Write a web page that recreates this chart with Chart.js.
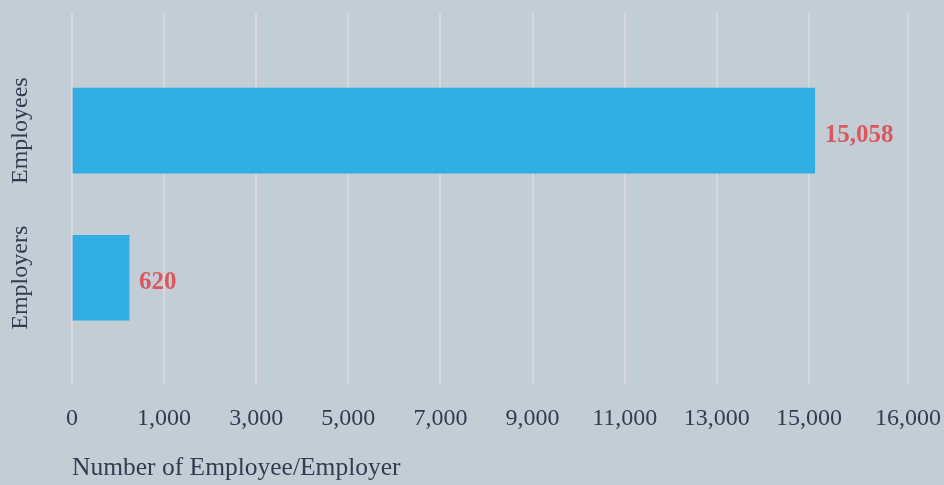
<!DOCTYPE html>
<html>
<head>
<meta charset="utf-8">
<script src="https://cdn.jsdelivr.net/npm/chart.js@4.4.1/dist/chart.umd.min.js"></script>
<style>
  html, body { margin: 0; padding: 0; background: #c3cdd6; }
  #wrap { width: 944px; height: 485px; position: relative; }
</style>
</head>
<body>
<div id="wrap"><canvas id="chart"></canvas></div>
<script>
// ---- data ----
const categories = ['Employees', 'Employers'];
const counts = [15058, 620];
const xTickValues = [0, 1000, 3000, 5000, 7000, 9000, 11000, 13000, 15000, 16000];
const xAxisTitle = 'Number of Employee/Employer';

// ---- piecewise scale: ticks placed at (nearly) even spacing ----
class PiecewiseScale extends Chart.LinearScale {
  determineDataLimits() {
    const t = this.options.tickValues;
    this.min = t[0];
    this.max = t[t.length - 1];
  }
  buildTicks() {
    return this.options.tickValues.map(v => ({ value: v }));
  }
  _cum() {
    const w = this.options.gapWeights;
    const c = [0];
    for (let i = 0; i < w.length; i++) c.push(c[i] + w[i]);
    return c;
  }
  getPixelForValue(value) {
    if (value === null || value === undefined || isNaN(value)) return NaN;
    const t = this.options.tickValues;
    const c = this._cum();
    let i = 0;
    while (i < t.length - 2 && value > t[i + 1]) i++;
    const frac = (value - t[i]) / (t[i + 1] - t[i]);
    const pos = (c[i] + frac * (c[i + 1] - c[i])) / c[c.length - 1];
    return this.getPixelForDecimal(pos);
  }
  getValueForPixel(pixel) {
    const t = this.options.tickValues;
    const c = this._cum();
    const d = this.getDecimalForPixel(pixel) * c[c.length - 1];
    let i = 0;
    while (i < c.length - 2 && d > c[i + 1]) i++;
    const frac = (d - c[i]) / (c[i + 1] - c[i]);
    return t[i] + frac * (t[i + 1] - t[i]);
  }
}
PiecewiseScale.id = 'piecewise';
PiecewiseScale.defaults = Chart.LinearScale.defaults;
Chart.register(PiecewiseScale);

const FONT = "'Liberation Serif', 'DejaVu Serif', serif";
const TEXT = '#323c51';

const valueLabels = {
  id: 'valueLabels',
  afterDatasetsDraw(chart) {
    const ctx = chart.ctx;
    const meta = chart.getDatasetMeta(0);
    ctx.save();
    ctx.font = 'bold 25px ' + FONT;
    ctx.fillStyle = '#db575d';
    ctx.textAlign = 'left';
    ctx.textBaseline = 'middle';
    meta.data.forEach((bar, i) => {
      ctx.fillText(counts[i].toLocaleString('en-US'), bar.x + 10, bar.y + 5);
    });
    ctx.restore();
  }
};

const categoryLabels = {
  id: 'categoryLabels',
  afterDraw(chart) {
    const ctx = chart.ctx;
    const y = chart.scales.y;
    ctx.save();
    ctx.font = '24px ' + FONT;
    ctx.fillStyle = TEXT;
    ctx.textAlign = 'center';
    ctx.textBaseline = 'middle';
    categories.forEach((c, i) => {
      ctx.save();
      ctx.translate(21, y.getPixelForValue(i));
      ctx.rotate(-Math.PI / 2);
      ctx.fillText(c, 0, 0);
      ctx.restore();
    });
    ctx.restore();
  }
};

new Chart(document.getElementById('chart'), {
  type: 'bar',
  data: {
    labels: categories,
    datasets: [{
      data: categories.map((c, i) => ({ x: counts[i], y: i })),
      backgroundColor: '#31aee4',
      borderWidth: 0,
      barThickness: 85
    }]
  },
  options: {
    indexAxis: 'y',
    responsive: true,
    maintainAspectRatio: false,
    animation: false,
    layout: { padding: { top: 13, right: 36, bottom: 1, left: 72 } },
    plugins: {
      legend: { display: false },
      tooltip: { enabled: false }
    },
    scales: {
      x: {
        type: 'piecewise',
        tickValues: xTickValues,
        gapWeights: [1, 1, 1, 1, 1, 1, 1, 1, 1.075],
        border: { display: false },
        grid: { color: '#d9d6d8', lineWidth: 2, drawTicks: true, tickLength: 18, tickColor: 'rgba(0,0,0,0)' },
        ticks: {
          padding: 3,
          maxRotation: 0,
          autoSkip: false,
          color: TEXT,
          font: { family: FONT, size: 24 },
          callback: v => v.toLocaleString('en-US')
        },
        title: {
          display: true,
          text: xAxisTitle,
          align: 'start',
          color: TEXT,
          font: { family: FONT, size: 25.5 },
          padding: { top: 17, bottom: 0 }
        }
      },
      y: {
        type: 'linear',
        display: false,
        reverse: true,
        offset: false,
        bounds: 'data',
        grid: { offset: false },
        min: -0.8,
        max: 1.72,
        afterBuildTicks: (scale) => { scale.ticks = categories.map((c, i) => ({ value: i })); }
      }
    }
  },
  plugins: [valueLabels, categoryLabels]
});
</script>
</body>
</html>
